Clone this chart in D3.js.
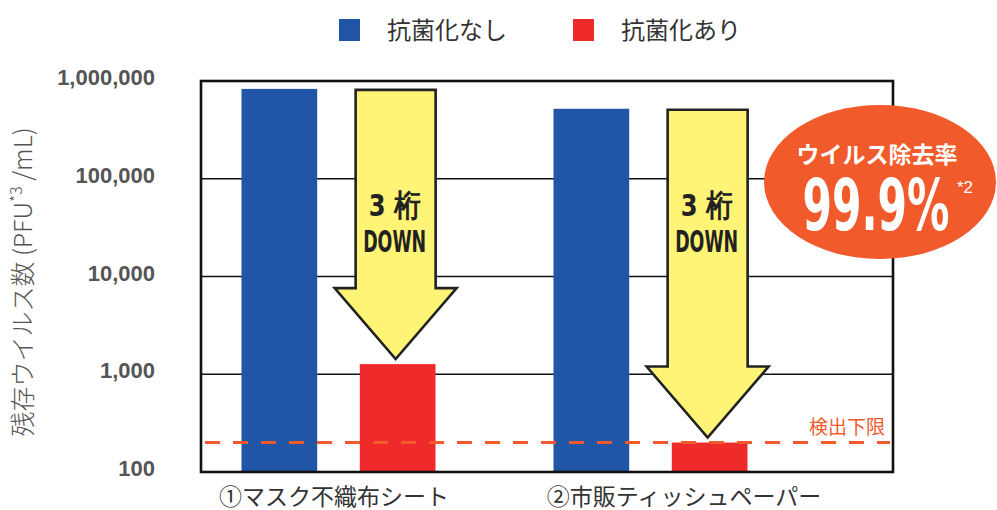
<!DOCTYPE html>
<html>
<head>
<meta charset="utf-8">
<script src="https://cdn.jsdelivr.net/npm/d3@7"></script>
<style>
  body { margin: 0; background: #fff; }
  svg { display: block; }
</style>
</head>
<body>
<div id="chart"></div>
<script>
// Data
var categories = ["①マスク不織布シート", "②市販ティッシュペーパー"];
var series = ["抗菌化なし", "抗菌化あり"];
var valuesNone = [830000, 520000];   // 抗菌化なし
var valuesTreated = [1270, 200];     // 抗菌化あり
var detectionLimit = 200;
var tickValues = [100, 1000, 10000, 100000, 1000000];
var tickLabels = ["100", "1,000", "10,000", "100,000", "1,000,000"];
var arrowText = ["3 桁", "DOWN"];

var width = 997;
var height = 510;

var colors = ["#2155a5", "#ee2a2a"];
var orange = "#f15a2b";
var jp = "'Noto Sans CJK JP', 'Noto Sans', sans-serif";
var narrow = "'Liberation Sans Narrow', 'DejaVu Sans Condensed', 'Liberation Sans', sans-serif";

var svg = d3.select("#chart")
  .append("svg")
  .attr("width", width)
  .attr("height", height);

// Plot frame
var plot = { left: 201, right: 893, top: 81, bottom: 472 };

// Scales
var y = d3.scaleLog()
  .domain([100, 1000000])
  .range([plot.bottom, plot.top]);

var x0 = d3.scaleBand()
  .domain(categories)
  .range([182.5, 806.5]);

var x1 = d3.scaleBand()
  .domain(series)
  .range([59, 253])
  .paddingInner(0.36);

var labelX = d3.scalePoint()
  .domain(categories)
  .range([334, 684]);

// Gridlines
svg.append("g")
  .attr("class", "grid")
  .selectAll("line")
  .data(tickValues.slice(1, -1))
  .enter().append("line")
  .attr("x1", plot.left)
  .attr("x2", plot.right)
  .attr("y1", function(d) { return y(d); })
  .attr("y2", function(d) { return y(d); })
  .style("stroke", "#111")
  .style("stroke-width", 1.6);

// Bars
var rows = categories.map(function(c, i) {
  return { cat: c, vals: [valuesNone[i], valuesTreated[i]] };
});

var groups = svg.append("g")
  .selectAll("g")
  .data(rows)
  .enter().append("g")
  .attr("transform", function(d) { return "translate(" + x0(d.cat) + ",0)"; });

groups.selectAll("rect")
  .data(function(d) {
    return series.map(function(s, j) { return { s: s, v: d.vals[j], j: j }; });
  })
  .enter().append("rect")
  .attr("x", function(d) { return x1(d.s); })
  .attr("width", x1.bandwidth())
  .attr("y", function(d) { return y(d.v); })
  .attr("height", function(d) { return y(100) - y(d.v); })
  .style("fill", function(d) { return colors[d.j]; });

// Detection limit
svg.append("line")
  .attr("x1", plot.left)
  .attr("x2", plot.right - 3)
  .attr("y1", y(detectionLimit))
  .attr("y2", y(detectionLimit))
  .style("stroke", orange)
  .style("stroke-width", 3)
  .style("stroke-dasharray", "15,13")
  .style("stroke-dashoffset", "-4");

svg.append("text")
  .attr("x", 885)
  .attr("y", y(detectionLimit) - 9)
  .attr("text-anchor", "end")
  .style("font-family", jp)
  .style("font-size", "19px")
  .style("fill", orange)
  .text("検出下限");

// Arrows (from untreated bar top down to treated bar top)
function arrowPath(cx, top, tip) {
  var sw = 40, hw = 61, hh = 71;
  return "M" + (cx - sw) + "," + top +
    "L" + (cx + sw) + "," + top +
    "L" + (cx + sw) + "," + (tip - hh) +
    "L" + (cx + hw) + "," + (tip - hh) +
    "L" + cx + "," + tip +
    "L" + (cx - hw) + "," + (tip - hh) +
    "L" + (cx - sw) + "," + (tip - hh) + "Z";
}

var arrows = svg.append("g").attr("class", "arrows")
  .selectAll("g")
  .data(rows)
  .enter().append("g");

arrows.append("path")
  .attr("d", function(d) {
    var cx = x0(d.cat) + x1(series[1]) + x1.bandwidth() / 2 - 2;
    return arrowPath(cx, y(d.vals[0]) + 1, y(d.vals[1]) - 5);
  })
  .style("fill", "#fff475")
  .style("stroke", "#222")
  .style("stroke-width", 2.6)
  .style("stroke-linejoin", "miter");

arrows.append("text")
  .attr("x", function(d) { return x0(d.cat) + x1(series[1]) + x1.bandwidth() / 2 - 3; })
  .attr("y", 216)
  .attr("text-anchor", "middle")
  .attr("textLength", 52)
  .attr("lengthAdjust", "spacingAndGlyphs")
  .style("font-family", narrow)
  .style("font-weight", "bold")
  .style("font-size", "31px")
  .style("fill", "#222")
  .text(arrowText[0]);

arrows.append("text")
  .attr("x", function(d) { return x0(d.cat) + x1(series[1]) + x1.bandwidth() / 2 - 3; })
  .attr("y", 252)
  .attr("text-anchor", "middle")
  .attr("textLength", 63)
  .attr("lengthAdjust", "spacingAndGlyphs")
  .style("font-family", narrow)
  .style("font-weight", "bold")
  .style("font-size", "31px")
  .style("fill", "#222")
  .text(arrowText[1]);

// Frame
svg.append("rect")
  .attr("x", plot.left)
  .attr("y", plot.top)
  .attr("width", plot.right - plot.left)
  .attr("height", plot.bottom - plot.top)
  .style("fill", "none")
  .style("stroke", "#111")
  .style("stroke-width", 2.6);

// Y axis tick labels
svg.append("g")
  .selectAll("text")
  .data(tickValues)
  .enter().append("text")
  .attr("x", 155)
  .attr("y", function(d) { return y(d) + 4; })
  .attr("text-anchor", "end")
  .style("font-family", "'Liberation Sans', Arial, sans-serif")
  .style("font-weight", "bold")
  .style("font-size", "22px")
  .style("fill", "#555")
  .text(function(d, i) { return tickLabels[i]; });

// Y axis title
var ytitle = svg.append("text")
  .attr("transform", "translate(32,282) rotate(-90)")
  .attr("text-anchor", "middle")
  .style("font-family", jp)
  .style("font-weight", 300)
  .style("font-size", "25px")
  .style("fill", "#555");
ytitle.append("tspan").text("残存ウイルス数 (PFU");
ytitle.append("tspan").attr("dy", -10).style("font-size", "16px").text("*3");
ytitle.append("tspan").attr("dy", 10).text(" /mL)");

// Category labels
svg.append("g")
  .selectAll("text")
  .data(categories)
  .enter().append("text")
  .attr("x", function(d) { return labelX(d); })
  .attr("y", 505)
  .attr("text-anchor", "middle")
  .style("font-family", jp)
  .style("font-size", "23px")
  .style("fill", "#333")
  .text(function(d) { return d; });

// Legend
var legend = svg.append("g")
  .selectAll("g")
  .data(series)
  .enter().append("g")
  .attr("transform", function(d, i) { return "translate(" + (339 + i * 234) + ",19)"; });

legend.append("rect")
  .attr("width", 21)
  .attr("height", 22)
  .style("fill", function(d, i) { return colors[i]; });

legend.append("text")
  .attr("x", 48)
  .attr("y", 20)
  .style("font-family", jp)
  .style("font-size", "24px")
  .style("fill", "#333")
  .text(function(d) { return d; });

// Removal rate badge
svg.append("ellipse")
  .attr("cx", 880)
  .attr("cy", 182)
  .attr("rx", 116)
  .attr("ry", 77)
  .style("fill", orange);

svg.append("text")
  .attr("x", 877)
  .attr("y", 163)
  .attr("text-anchor", "middle")
  .style("font-family", jp)
  .style("font-weight", "bold")
  .style("font-size", "23px")
  .style("fill", "#fff")
  .text("ウイルス除去率");

svg.append("text")
  .attr("x", 876)
  .attr("y", 230)
  .attr("text-anchor", "middle")
  .attr("textLength", 147)
  .attr("lengthAdjust", "spacingAndGlyphs")
  .style("font-family", narrow)
  .style("font-weight", "bold")
  .style("font-size", "72px")
  .style("fill", "#fff")
  .text("99.9%");

svg.append("text")
  .attr("x", 957)
  .attr("y", 193)
  .style("font-family", "'Liberation Sans', Arial, sans-serif")
  .style("font-size", "17px")
  .style("fill", "#fff")
  .text("*2");
</script>
</body>
</html>
